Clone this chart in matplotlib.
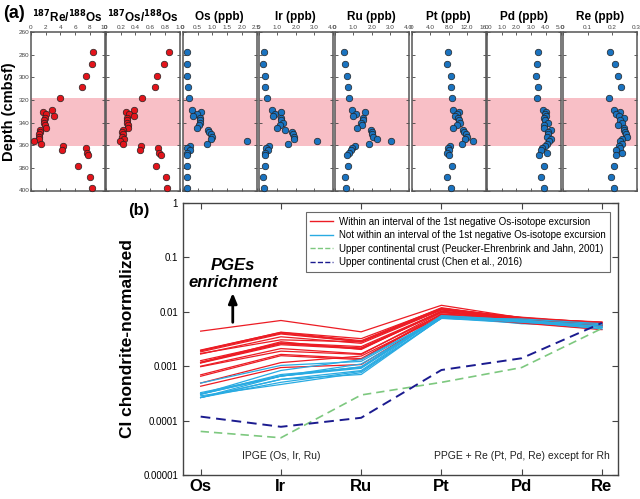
import numpy as np
import matplotlib.pyplot as plt
from matplotlib.ticker import NullLocator

plt.rcParams['font.family'] = ['Liberation Sans', 'DejaVu Sans']

depth = [278, 288, 298.5, 309, 318.5, 328.5, 330.5, 332.5, 334.5, 336, 338, 340, 342.5, 344.5,
         346.5, 348.5, 350.5, 352.5, 354.5, 356.5, 358.5, 360.5, 362.5, 364.5, 366.5, 368.5,
         378.5, 388.5, 398]
re_os = [8.4, 8.35, 7.5, 6.9, 4.0, 2.9, 1.7, 2.1, 3.1, 1.9, 1.8, 1.8, 1.9, 2.1,
         1.25, 1.2, 1.15, 1.1, 1.15, 0.45, 1.3, 4.4, 7.5, 4.15, 7.6, 7.7, 6.4, 8.0, 8.3]
os_os = [0.86, 0.79, 0.70, 0.67, 0.49, 0.385, 0.27, 0.31, 0.385, 0.28, 0.28, 0.28, 0.30, 0.30,
         0.235, 0.22, 0.23, 0.215, 0.245, 0.19, 0.23, 0.47, 0.71, 0.46, 0.72, 0.755, 0.685, 0.815, 0.835]
os_ppb = [0.13, 0.14, 0.15, 0.16, 0.21, 0.32, 0.62, 0.48, 0.34, 0.57, 0.58, 0.57, 0.56, 0.49,
          0.84, 0.90, 0.94, 0.97, 0.95, 2.16, 0.82, 0.24, 0.15, 0.24, 0.13, 0.15, 0.15, 0.13, 0.13]
ir_ppb = [0.26, 0.21, 0.30, 0.30, 0.43, 0.71, 1.22, 0.86, 0.75, 1.18, 1.2, 1.28, 1.13, 0.96,
          1.39, 1.78, 1.84, 1.9, 1.92, 3.15, 1.58, 0.53, 0.38, 0.47, 0.30, 0.32, 0.30, 0.23, 0.26]
ru_ppb = [0.5, 0.54, 0.65, 0.69, 0.76, 0.94, 1.63, 1.17, 0.98, 1.54, 1.5, 1.44, 1.48, 1.2,
          1.98, 2.0, 2.02, 2.09, 2.28, 3.04, 1.87, 1.09, 0.94, 0.87, 0.78, 0.67, 0.69, 0.57, 0.59]
pt_ppb = [7.85, 7.7, 8.5, 8.5, 8.6, 8.95, 10.2, 9.8, 9.3, 10.1, 10.2, 10.4, 9.9, 9.0,
          11.0, 11.3, 11.7, 12.0, 11.6, 13.3, 10.9, 8.2, 7.85, 8.1, 7.6, 8.0, 8.6, 7.7, 8.4]
pd_ppb = [3.48, 3.41, 3.32, 3.48, 3.41, 3.83, 4.0, 3.95, 4.04, 3.86, 3.95, 4.18, 3.9, 3.88,
          4.37, 4.14, 4.18, 4.11, 4.32, 4.25, 4.05, 3.95, 3.76, 3.67, 4.07, 3.53, 3.86, 3.69, 3.9]
re_ppb = [0.192, 0.211, 0.225, 0.236, 0.188, 0.208, 0.233, 0.218, 0.229, 0.247, 0.232, 0.24, 0.225, 0.247,
          0.251, 0.254, 0.256, 0.26, 0.24, 0.232, 0.24, 0.229, 0.232, 0.217, 0.242, 0.215, 0.208, 0.194, 0.207]

interval = (318, 361)  # 1st negative Os-isotope excursion

elements = ['Os', 'Ir', 'Ru', 'Pt', 'Pd', 'Re']
ci_chondrite = [490, 455, 710, 1010, 550, 40]       # ppb
ucc_pej = [0.031, 0.022, 0.21, 0.51, 0.52, 0.198]   # Peucker-Ehrenbrink and Jahn, 2001
ucc_chen = [0.058, 0.035, 0.080, 0.86, 0.77, 0.25]  # Chen et al., 2016

RED = '#e3141b'
BLUE = '#1a73c0'
PINK = '#f8bfc6'

W, H = 640, 499
fig = plt.figure(figsize=(W / 100, H / 100), dpi=100)


def px_axes(left, top, right, bottom):
    return fig.add_axes([left / W, 1 - bottom / H, (right - left) / W, (bottom - top) / H])


# ---- panel (a) ----
panels = [
    (re_os, (0, 10), [0, 2, 4, 6, 8, 10], ['0', '2', '4', '6', '8', '10'],
     r'$^{\mathbf{187}}$Re/$^{\mathbf{188}}$Os', RED),
    (os_os, (0, 1), [0, .2, .4, .6, .8, 1], ['0', '0.2', '0.4', '0.6', '0.8', '1.0'],
     r'$^{\mathbf{187}}$Os/$^{\mathbf{188}}$Os', RED),
    (os_ppb, (0, 2.5), [0, .5, 1, 1.5, 2, 2.5], ['0', '0.5', '1.0', '1.5', '2.0', '2.5'], 'Os (ppb)', BLUE),
    (ir_ppb, (0, 4), [0, 1, 2, 3, 4], ['0', '1.0', '2.0', '3.0', '4.0'], 'Ir (ppb)', BLUE),
    (ru_ppb, (0, 4), [0, 1, 2, 3, 4], ['0', '1.0', '2.0', '3.0', '4.0'], 'Ru (ppb)', BLUE),
    (pt_ppb, (0, 16), [0, 4, 8, 12, 16], ['0', '4.0', '8.0', '12.0', '16.0'], 'Pt (ppb)', BLUE),
    (pd_ppb, (0, 5), [0, 1, 2, 3, 4, 5], ['0', '1.0', '2.0', '3.0', '4.0', '5.0'], 'Pd (ppb)', BLUE),
    (re_ppb, (0, 0.3), [0, .1, .2, .3], ['0', '0.1', '0.2', '0.3'], 'Re (ppb)', BLUE),
]
lefts = [31, 106, 183, 259, 335, 412, 487, 563]

for i, (vals, xlim, ticks, labels, title, col) in enumerate(panels):
    ax = px_axes(lefts[i], 32, lefts[i] + 73.5, 190.5)
    ax.axhspan(interval[0], interval[1], color=PINK, lw=0, zorder=0)
    ax.scatter(vals, depth, s=22, c=col, edgecolors='#222222', linewidths=0.5, zorder=3, clip_on=False)
    ax.set_xlim(*xlim)
    ax.set_ylim(400, 260)
    ax.set_xticks(ticks)
    ax.set_xticklabels(labels)
    ax.set_yticks(range(260, 401, 20))
    ax.tick_params(axis='both', direction='in', length=2.5, width=0.6, color='#444444',
                   labelsize=4.6, labelcolor='#444444', pad=1.2)
    ax.tick_params(axis='x', top=True, bottom=True, labeltop=True, labelbottom=False)
    ax.tick_params(axis='y', left=True, right=True, labelleft=(i == 0))
    for sp in ax.spines.values():
        sp.set_color('#555555')
        sp.set_linewidth(1.1)
    ax.text(0.5, 1.095, title, transform=ax.transAxes, ha='center', va='center',
            fontsize=8.5, fontweight='bold')
    if i == 0:
        ax.set_ylabel('Depth (cmbsf)', fontsize=10.5, fontweight='bold', labelpad=2)

fig.text(14 / W, 1 - 13 / H, '(a)', fontsize=13, fontweight='bold', ha='center', va='center')

# ---- panel (b) ----
bx = px_axes(183, 203, 618, 475)
x = np.arange(len(elements))
ci = np.array(ci_chondrite)
series = [os_ppb, ir_ppb, ru_ppb, pt_ppb, pd_ppb, re_ppb]
for j in range(len(depth)):
    conc = np.array([s[j] for s in series])
    inside = interval[0] <= depth[j] <= interval[1]
    bx.plot(x, conc / ci, color='#ec1c24' if inside else '#29abe2', lw=0.9, zorder=2)

bx.plot(x, np.array(ucc_pej) / ci, color='#7dc87f', lw=1.2, ls=(0, (5, 3)), zorder=3)
bx.plot(x, np.array(ucc_chen) / ci, color='#1b1b8f', lw=1.4, ls=(0, (5, 3)), zorder=3)

bx.set_yscale('log')
bx.set_ylim(1e-5, 1)
bx.set_xlim(-0.22, 5.2)
bx.set_xticks(x)
bx.set_xticklabels(elements, fontsize=12, fontweight='bold')
bx.set_yticks([1e-5, 1e-4, 1e-3, 1e-2, 1e-1, 1])
bx.set_yticklabels(['0.00001', '0.0001', '0.001', '0.01', '0.1', '1'], fontsize=7)
bx.yaxis.set_minor_locator(NullLocator())
bx.tick_params(axis='both', direction='in', length=4, width=0.8, color='#444444',
               top=True, right=True)
bx.tick_params(axis='x', pad=3)
for sp in bx.spines.values():
    sp.set_color('#444444')
    sp.set_linewidth(1.0)
bx.set_ylabel('CI chondrite-normalized', fontsize=12.5, fontweight='bold', labelpad=6)

legend_items = [
    ('#ec1c24', '-', 'Within an interval of the 1st negative Os-isotope excursion'),
    ('#29abe2', '-', 'Not within an interval of the 1st negative Os-isotope excursion'),
    ('#7dc87f', '--', 'Upper continental crust (Peucker-Ehrenbrink and Jahn, 2001)'),
    ('#1b1b8f', '--', 'Upper continental crust (Chen et al., 2016)'),
]
handles = [plt.Line2D([], [], color=c, ls=l, lw=1.0) for c, l, _ in legend_items]
leg = bx.legend(handles, [t for _, _, t in legend_items], loc='upper right',
                bbox_to_anchor=(0.982, 0.967), borderaxespad=0, fontsize=7, frameon=True,
                fancybox=False, handlelength=2.3, labelspacing=0.35, borderpad=0.5,
                handletextpad=0.6)
leg.get_frame().set_edgecolor('#444444')
leg.get_frame().set_linewidth(0.8)

bx.text(0.40, 0.072, 'PGEs', fontsize=12, fontweight='bold', style='italic', ha='center', va='center')
bx.text(0.40, 0.035, 'enrichment', fontsize=12, fontweight='bold', style='italic', ha='center', va='center')
bx.annotate('', xy=(0.40, 0.025), xytext=(0.40, 0.0057),
            arrowprops=dict(arrowstyle='-|>,head_width=0.25,head_length=0.6', color='black', lw=2))

bx.text(1.0, 2.2e-5, 'IPGE (Os, Ir, Ru)', fontsize=7.5, ha='center', va='center', color='#222222')
bx.text(5.1, 2.2e-5, 'PPGE + Re (Pt, Pd, Re) except for Rh', fontsize=7.5, ha='right', va='center',
        color='#222222')

fig.text(139 / W, 1 - 211 / H, '(b)', fontsize=12, fontweight='bold', ha='center', va='center')

fig.savefig('out.png', dpi=100)
